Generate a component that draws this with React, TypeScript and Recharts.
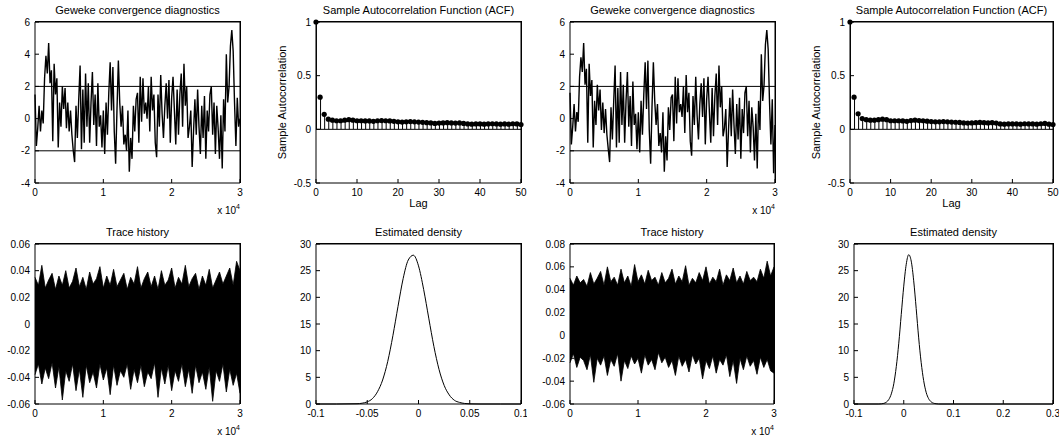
import {
  Area,
  AreaChart,
  Bar,
  ComposedChart,
  Line,
  LineChart,
  ReferenceLine,
  XAxis,
  YAxis,
} from 'recharts'

// Geweke z-scores, one value every 200 iterations
const gewekeA = [
  1.5, -1.7, -0.6, 0.8, -0.8, 0.5, -0.3, 2.5, 3.9, 2.8,
  4.7, 2.2, 3.0, -1.4, 3.4, 1.5, 2.5, -1.8, 1.0, -0.5,
  2.0, 0.6, 1.9, -0.6, 1.0, -0.8, 0.5, -1.0, -2.0, -2.7,
  0.8, -1.2, 1.2, 3.3, -1.9, 1.8, -1.5, 2.8, -0.5, 2.2,
  -1.5, 1.0, 2.9, -0.4, 1.5, -1.7, 2.2, -0.5, 0.2, -1.8,
  0.5, -2.2, 1.0, -1.0, 1.6, 3.5, 0.5, 3.2, -0.8, -2.8,
  0.6, 3.6, 1.0, -0.5, 0.8, -1.6, -1.0, -2.0, 0.5, -3.3,
  -1.2, -2.5, 0.8, -0.8, 1.2, 1.6, -1.5, 2.6, -0.2, 2.5,
  0.3, 1.0, 0.0, 2.0, -0.8, 2.6, 0.5, 1.5, -1.5, -2.4,
  1.5, -0.5, 2.7, 0.3, -1.2, 0.8, 2.2, 0.0, 2.4, -1.5,
  1.3, 2.6, 0.5, -1.6, 1.8, -1.0, 1.5, 2.8, -0.5, 3.4,
  0.8, 2.0, -1.2, -0.5, 0.5, -3.0, -0.8, 1.2, -1.0, 1.8,
  -0.5, -2.2, 0.8, -1.2, 1.4, -2.5, 0.5, -0.8, 1.5, 2.0,
  -1.0, 1.0, -2.2, 0.8, -0.6, -2.5, 0.2, -3.1, 1.2, -0.8,
  4.0, 1.0, 2.0, 4.5, 5.5, 4.2, 1.0, -1.7, 1.3, -0.5, 0.0,
]
const gewekeB = [
  1.6, -1.6, -0.5, 0.9, -0.8, 0.4, -0.2, 2.6, 3.8, 2.9,
  4.7, 2.1, 3.1, -1.5, 3.4, 1.4, 2.4, -1.8, 1.1, -0.4,
  2.1, 0.5, 1.8, -0.7, 1.0, -0.9, 0.6, -1.0, -1.9, -2.7,
  0.7, -1.3, 1.1, 3.3, -1.8, 1.9, -1.5, 2.9, -0.4, 2.1,
  -1.5, 1.1, 2.9, -0.5, 1.4, -1.7, 2.3, -0.4, 0.3, -1.9,
  0.4, -2.1, 1.1, -1.0, 1.5, 3.5, 0.6, 3.6, -0.7, -2.8,
  0.7, 3.5, 1.1, -0.4, 0.9, -1.7, -0.9, -2.1, 0.4, -3.3,
  -1.1, -2.6, 0.7, -0.7, 1.3, 1.5, -1.4, 2.6, -0.3, 2.5,
  0.4, 0.9, 0.1, 2.0, -0.9, 2.7, 0.4, 1.6, -1.4, -2.3,
  1.4, -0.4, 2.6, 0.2, -1.3, 0.9, 2.2, 0.1, 2.5, -1.6,
  1.2, 2.6, 0.4, -1.5, 1.9, -1.1, 1.4, 2.8, -0.4, 3.3,
  0.7, 2.0, -1.1, -0.6, 0.6, -3.0, -0.7, 1.3, -1.1, 1.8,
  -0.4, -2.2, 0.9, -1.3, 1.3, -2.5, 0.6, -0.9, 1.6, 2.0,
  -1.1, 1.1, -2.1, 0.7, -0.5, -2.6, 0.3, -3.1, 1.1, -0.7,
  4.0, 1.1, 2.1, 4.6, 5.5, 4.3, 1.0, -1.6, 1.2, -3.4, -0.4,
]

const lags = Array.from({ length: 51 }, (_, i) => i)
const acfA = [
  1, 0.3, 0.14, 0.095, 0.085, 0.08, 0.08, 0.085, 0.09, 0.085,
  0.08, 0.08, 0.078, 0.078, 0.075, 0.08, 0.082, 0.08, 0.078, 0.075,
  0.07, 0.068, 0.07, 0.072, 0.07, 0.068, 0.065, 0.062, 0.06, 0.055,
  0.058, 0.06, 0.062, 0.06, 0.058, 0.06, 0.055, 0.05, 0.048, 0.05,
  0.05, 0.048, 0.05, 0.052, 0.05, 0.048, 0.05, 0.048, 0.052, 0.05,
  0.045,
]
const acfB = [
  1, 0.3, 0.145, 0.1, 0.09, 0.085, 0.085, 0.09, 0.095, 0.09,
  0.08, 0.08, 0.08, 0.078, 0.075, 0.082, 0.085, 0.082, 0.08, 0.076,
  0.072, 0.07, 0.07, 0.072, 0.07, 0.068, 0.066, 0.064, 0.06, 0.058,
  0.06, 0.062, 0.064, 0.062, 0.06, 0.062, 0.058, 0.05, 0.048, 0.05,
  0.05, 0.05, 0.048, 0.052, 0.05, 0.05, 0.048, 0.052, 0.055, 0.048,
  0.045,
]

// trace history: upper / lower envelope every 500 iterations
const traceHiA = [
  0.035, 0.029, 0.044, 0.027, 0.033, 0.038, 0.026, 0.036, 0.029, 0.04,
  0.027, 0.032, 0.042, 0.028, 0.035, 0.026, 0.039, 0.03, 0.034, 0.043,
  0.027, 0.036, 0.029, 0.041, 0.028, 0.033, 0.038, 0.026, 0.035, 0.03,
  0.043, 0.027, 0.034, 0.039, 0.028, 0.036, 0.026, 0.04, 0.029, 0.033,
  0.042, 0.027, 0.035, 0.03, 0.044, 0.028, 0.034, 0.038, 0.026, 0.036,
  0.029, 0.041, 0.027, 0.033, 0.039, 0.03, 0.036, 0.042, 0.029, 0.047,
  0.04,
]
const traceLoA = [
  -0.038, -0.03, -0.045, -0.033, -0.041, -0.029, -0.048, -0.032, -0.057, -0.035,
  -0.043, -0.03, -0.05, -0.034, -0.055, -0.031, -0.044, -0.036, -0.048, -0.03,
  -0.042, -0.033, -0.053, -0.031, -0.046, -0.035, -0.04, -0.03, -0.049, -0.034,
  -0.044, -0.031, -0.047, -0.036, -0.041, -0.029, -0.055, -0.033, -0.045, -0.031,
  -0.05, -0.035, -0.043, -0.03, -0.047, -0.034, -0.052, -0.031, -0.044, -0.036,
  -0.049, -0.032, -0.058, -0.035, -0.043, -0.03, -0.051, -0.034, -0.046, -0.037,
  -0.052,
]
const traceHiB = [
  0.05, 0.044, 0.052, 0.046, 0.049, 0.043, 0.055, 0.045, 0.05, 0.056,
  0.044, 0.06, 0.047, 0.051, 0.044, 0.058, 0.046, 0.052, 0.043, 0.062,
  0.047, 0.053, 0.045, 0.057, 0.048, 0.051, 0.044, 0.055, 0.046, 0.05,
  0.058, 0.045, 0.052, 0.047, 0.061, 0.044, 0.05, 0.046, 0.055, 0.048,
  0.06, 0.045, 0.051, 0.047, 0.058, 0.044, 0.053, 0.048, 0.059, 0.046,
  0.052, 0.045, 0.056, 0.048, 0.051, 0.047, 0.058, 0.05, 0.065, 0.052,
  0.06,
]
const traceLoB = [
  -0.024, -0.016, -0.028, -0.019, -0.022, -0.03, -0.017, -0.041, -0.02, -0.026,
  -0.018, -0.035, -0.021, -0.027, -0.016, -0.04, -0.022, -0.029, -0.018, -0.025,
  -0.02, -0.033, -0.017, -0.026, -0.021, -0.03, -0.015, -0.024, -0.019, -0.028,
  -0.022, -0.035, -0.018, -0.027, -0.021, -0.032, -0.017, -0.025, -0.02, -0.038,
  -0.022, -0.029, -0.018, -0.033, -0.021, -0.026, -0.017, -0.036, -0.022, -0.042,
  -0.02, -0.03, -0.018, -0.027, -0.022, -0.034, -0.019, -0.028, -0.021, -0.031,
  -0.033,
]

const densityXA = [
  -0.1, -0.08, -0.06, -0.055, -0.05, -0.045, -0.04, -0.035, -0.03, -0.025,
  -0.02, -0.015, -0.01, -0.005, 0, 0.005, 0.01, 0.015, 0.02, 0.025,
  0.03, 0.035, 0.04, 0.045, 0.05, 0.06, 0.08, 0.1,
]
const densityYA = [
  0, 0, 0.05, 0.15, 0.4, 1.0, 2.3, 4.5, 8.0, 12.8,
  18.3, 23.5, 27.0, 27.9, 25.9, 21.5, 16.1, 10.8, 6.5, 3.5,
  1.7, 0.7, 0.3, 0.1, 0.03, 0, 0, 0,
]
const densityXB = [
  -0.1, -0.05, -0.045, -0.04, -0.035, -0.03, -0.025, -0.02, -0.015, -0.01,
  -0.005, 0, 0.005, 0.01, 0.015, 0.02, 0.025, 0.03, 0.035, 0.04,
  0.045, 0.05, 0.055, 0.06, 0.065, 0.07, 0.1, 0.2, 0.3,
]
const densityYB = [
  0, 0, 0.03, 0.12, 0.34, 0.85, 1.9, 3.8, 7.0, 11.4,
  16.8, 22.1, 26.2, 28.0, 26.8, 23.1, 17.9, 12.4, 7.8, 4.4,
  2.2, 1.0, 0.41, 0.15, 0.05, 0, 0, 0, 0,
]

const gewekeRowsA = gewekeA.map((y, i) => ({ x: i * 200, y }))
const gewekeRowsB = gewekeB.map((y, i) => ({ x: i * 200, y }))
const acfRowsA = lags.map((x, i) => ({ x, acf: acfA[i] }))
const acfRowsB = lags.map((x, i) => ({ x, acf: acfB[i] }))
const traceRowsA = traceHiA.map((hi, i) => ({ x: i * 500, hi, lo: traceLoA[i] }))
const traceRowsB = traceHiB.map((hi, i) => ({ x: i * 500, hi, lo: traceLoB[i] }))
const densityRowsA = densityXA.map((x, i) => ({ x, y: densityYA[i] }))
const densityRowsB = densityXB.map((x, i) => ({ x, y: densityYB[i] }))

type Box = { left: number; top: number; right: number; bottom: number }

const TOP = 6
const RIGHT = 6
const XH = 36
const YW = 30
const YW_ACF = 50

const boxes: Record<string, Box> = {
  gewekeA: { left: 35, top: 22, right: 240, bottom: 183 },
  acfA: { left: 316, top: 22, right: 521, bottom: 183 },
  gewekeB: { left: 570, top: 22, right: 775, bottom: 183 },
  acfB: { left: 850, top: 22, right: 1053, bottom: 183 },
  traceA: { left: 35, top: 244, right: 240, bottom: 404 },
  densityA: { left: 316, top: 244, right: 521, bottom: 404 },
  traceB: { left: 570, top: 244, right: 774, bottom: 404 },
  densityB: { left: 854, top: 244, right: 1053, bottom: 404 },
}

const tickStyle = { fontSize: 10, fill: '#000' }
const lineStyle = { stroke: '#000' }

function chartSize(box: Box, yw: number) {
  return {
    style: { position: 'absolute' as const, left: box.left - yw, top: box.top - TOP },
    width: box.right - box.left + yw + RIGHT,
    height: box.bottom - box.top + TOP + XH,
    margin: { top: TOP, right: RIGHT, left: 0, bottom: 0 },
  }
}

function PowerLabel(props: any) {
  const vb = props.viewBox
  if (!vb) return null
  return (
    <text x={vb.x + vb.width} y={vb.y + 31} textAnchor="end" fontSize={10} fill="#000">
      x 10<tspan dy={-5} fontSize={7}>4</tspan>
    </text>
  )
}

interface Frame {
  xDomain: [number, number]
  xTicks: number[]
  yDomain: [number, number]
  yTicks: number[]
  yw: number
  xFmt?: (v: number) => string
  yFmt?: (v: number) => string
  xLabel?: any
  yLabel?: any
}

// bottom and left axes, MATLAB style inward ticks
function frameAxes(f: Frame) {
  return [
    <XAxis
      key="xb"
      dataKey="x"
      type="number"
      domain={f.xDomain}
      ticks={f.xTicks}
      interval={0}
      height={XH}
      tickSize={-4}
      tickMargin={10}
      tick={tickStyle}
      tickLine={lineStyle}
      axisLine={lineStyle}
      tickFormatter={f.xFmt ?? ((v: number) => String(v))}
      label={f.xLabel}
    />,
    <YAxis
      key="yl"
      type="number"
      domain={f.yDomain}
      ticks={f.yTicks}
      interval={0}
      width={f.yw}
      tickSize={-4}
      tickMargin={9}
      tick={tickStyle}
      tickLine={lineStyle}
      axisLine={lineStyle}
      tickFormatter={f.yFmt ?? ((v: number) => String(v))}
      label={f.yLabel}
    />,
  ]
}

// closes the axes box on the top and right sides
function BoxFrame({ box }: { box: Box }) {
  return (
    <div
      style={{
        position: 'absolute',
        zIndex: 5,
        boxSizing: 'border-box',
        left: box.left,
        top: box.top - 1,
        width: box.right - box.left + 1,
        height: box.bottom - box.top + 1,
        borderTop: '1px solid #000',
        borderRight: '1px solid #000',
        pointerEvents: 'none',
      }}
    />
  )
}

function Title({ box, text }: { box: Box; text: string }) {
  return (
    <div
      style={{
        position: 'absolute',
        left: box.left,
        width: box.right - box.left,
        top: box.top - 18,
        fontSize: 11,
        lineHeight: '12px',
        textAlign: 'center',
        whiteSpace: 'nowrap',
      }}
    >
      {text}
    </div>
  )
}

const iterFmt = (v: number) => String(v / 10000)
const traceFmt = (v: number) => (v === 0 ? '0' : v.toFixed(2))

function GewekeChart({ box, rows }: { box: Box; rows: Array<{ x: number; y: number }> }) {
  return (
    <LineChart data={rows} {...chartSize(box, YW)}>
      {frameAxes({
        xDomain: [0, 30000],
        xTicks: [0, 10000, 20000, 30000],
        yDomain: [-4, 6],
        yTicks: [-4, -2, 0, 2, 4, 6],
        yw: YW,
        xFmt: iterFmt,
        xLabel: <PowerLabel />,
      })}
      <ReferenceLine y={6} stroke="#000" ifOverflow="visible" />
      <ReferenceLine x={30000} stroke="#000" ifOverflow="visible" />
      <ReferenceLine y={2} stroke="#000" />
      <ReferenceLine y={-2} stroke="#000" />
      <Line
        type="linear"
        dataKey="y"
        stroke="#000"
        strokeWidth={1.4}
        dot={false}
        isAnimationActive={false}
      />
    </LineChart>
  )
}

function AcfChart({ box, rows }: { box: Box; rows: Array<{ x: number; acf: number }> }) {
  return (
    <ComposedChart data={rows} {...chartSize(box, YW_ACF)}>
      {frameAxes({
        xDomain: [0, 50],
        xTicks: [0, 10, 20, 30, 40, 50],
        yDomain: [-0.5, 1],
        yTicks: [-0.5, 0, 0.5, 1],
        yw: YW_ACF,
        xLabel: { value: 'Lag', position: 'insideBottom', offset: 12, fontSize: 11, fill: '#000' },
        yLabel: {
          value: 'Sample Autocorrelation',
          angle: -90,
          position: 'insideLeft',
          offset: 16,
          fontSize: 11,
          fill: '#000',
          style: { textAnchor: 'middle' },
        },
      })}
      <ReferenceLine y={1} stroke="#000" ifOverflow="visible" />
      <ReferenceLine x={50} stroke="#000" ifOverflow="visible" />
      <ReferenceLine y={0} stroke="#000" />
      <Bar dataKey="acf" barSize={1} fill="#000" isAnimationActive={false} />
      <Line
        dataKey="acf"
        stroke="none"
        dot={{ r: 2.6, fill: '#000', stroke: 'none' }}
        isAnimationActive={false}
      />
    </ComposedChart>
  )
}

function TraceChart({
  box,
  rows,
  yDomain,
  yTicks,
}: {
  box: Box
  rows: Array<{ x: number; hi: number; lo: number }>
  yDomain: [number, number]
  yTicks: number[]
}) {
  return (
    <AreaChart data={rows} {...chartSize(box, YW)}>
      {frameAxes({
        xDomain: [0, 30000],
        xTicks: [0, 10000, 20000, 30000],
        yDomain,
        yTicks,
        yw: YW,
        xFmt: iterFmt,
        yFmt: traceFmt,
        xLabel: <PowerLabel />,
      })}
      <ReferenceLine y={yDomain[1]} stroke="#000" ifOverflow="visible" />
      <ReferenceLine x={30000} stroke="#000" ifOverflow="visible" />
      <Area
        type="linear"
        dataKey={(d: { lo: number; hi: number }) => [d.lo, d.hi]}
        stroke="#000"
        strokeWidth={0.8}
        fill="#000"
        fillOpacity={1}
        isAnimationActive={false}
      />
    </AreaChart>
  )
}

function DensityChart({
  box,
  rows,
  xDomain,
  xTicks,
}: {
  box: Box
  rows: Array<{ x: number; y: number }>
  xDomain: [number, number]
  xTicks: number[]
}) {
  return (
    <LineChart data={rows} {...chartSize(box, YW)}>
      {frameAxes({
        xDomain,
        xTicks,
        yDomain: [0, 30],
        yTicks: [0, 5, 10, 15, 20, 25, 30],
        yw: YW,
      })}
      <ReferenceLine y={30} stroke="#000" ifOverflow="visible" />
      <ReferenceLine x={xDomain[1]} stroke="#000" ifOverflow="visible" />
      <Line
        type="monotone"
        dataKey="y"
        stroke="#000"
        strokeWidth={1}
        dot={false}
        isAnimationActive={false}
      />
    </LineChart>
  )
}

export default function App() {
  return (
    <div
      style={{
        position: 'absolute',
        left: 0,
        top: 0,
        width: 1060,
        height: 442,
        overflow: 'hidden',
        background: '#fff',
        color: '#000',
        fontFamily: '"Liberation Sans", Arial, Helvetica, sans-serif',
      }}
    >
      <Title box={boxes.gewekeA} text="Geweke convergence diagnostics" />
      <Title box={boxes.acfA} text="Sample Autocorrelation Function (ACF)" />
      <Title box={boxes.gewekeB} text="Geweke convergence diagnostics" />
      <Title box={boxes.acfB} text="Sample Autocorrelation Function (ACF)" />
      <Title box={boxes.traceA} text="Trace history" />
      <Title box={boxes.densityA} text="Estimated density" />
      <Title box={boxes.traceB} text="Trace history" />
      <Title box={boxes.densityB} text="Estimated density" />

      <GewekeChart box={boxes.gewekeA} rows={gewekeRowsA} />
      <AcfChart box={boxes.acfA} rows={acfRowsA} />
      <GewekeChart box={boxes.gewekeB} rows={gewekeRowsB} />
      <AcfChart box={boxes.acfB} rows={acfRowsB} />
      <TraceChart
        box={boxes.traceA}
        rows={traceRowsA}
        yDomain={[-0.06, 0.06]}
        yTicks={[-0.06, -0.04, -0.02, 0, 0.02, 0.04, 0.06]}
      />
      <DensityChart
        box={boxes.densityA}
        rows={densityRowsA}
        xDomain={[-0.1, 0.1]}
        xTicks={[-0.1, -0.05, 0, 0.05, 0.1]}
      />
      <TraceChart
        box={boxes.traceB}
        rows={traceRowsB}
        yDomain={[-0.06, 0.08]}
        yTicks={[-0.06, -0.04, -0.02, 0, 0.02, 0.04, 0.06, 0.08]}
      />
      <DensityChart
        box={boxes.densityB}
        rows={densityRowsB}
        xDomain={[-0.1, 0.3]}
        xTicks={[-0.1, 0, 0.1, 0.2, 0.3]}
      />

      {Object.values(boxes).map((b, i) => (
        <BoxFrame key={i} box={b} />
      ))}
    </div>
  )
}
